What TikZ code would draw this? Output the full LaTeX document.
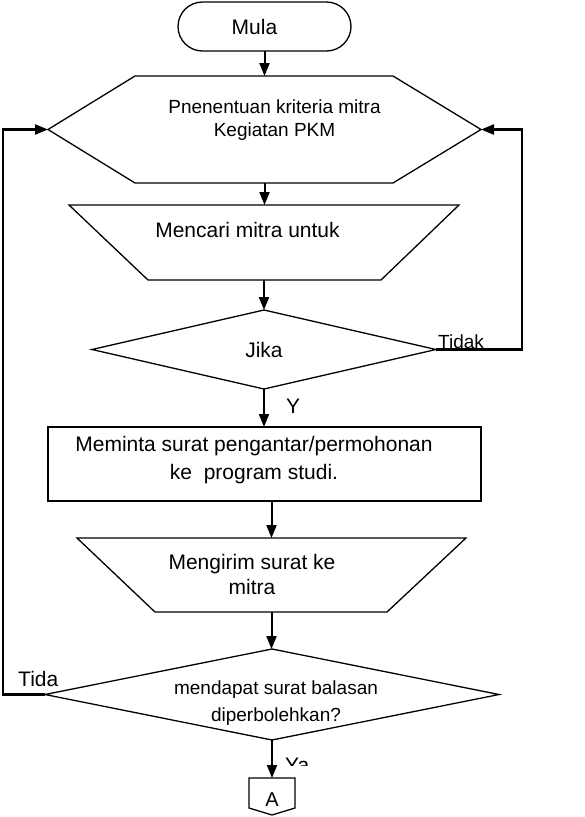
\documentclass[tikz,border=0pt]{standalone}
\usepackage{fontspec}
\setmainfont{Liberation Sans}
\usetikzlibrary{arrows.meta,calc}
\begin{document}
\begin{tikzpicture}[x=1pt,y=-1pt,
  box/.style={draw=none,inner sep=0pt,outer sep=0pt},
  outline/.style={draw=black,line width=1.3pt,line join=miter},
  conn/.style={draw=black,line width=2pt,-{Triangle[length=13pt,width=10pt]}},
  loopconn/.style={draw=black,line width=2.3pt,-{Triangle[length=13pt,width=10pt]}},
  big/.style={inner sep=0pt,font=\fontsize{21}{25}\selectfont},
  small/.style={inner sep=0pt,font=\fontsize{19}{23}\selectfont}
]
\useasboundingbox (0,0) rectangle (585,817);

% shapes
\node[box,draw=black,line width=1.3pt,rounded corners=24.5pt,minimum width=173pt,minimum height=49pt] (mula) at (264.5,26.5) {};
\node[big] (mulat) at (254.5,26.5) {Mula};

\node[box,minimum width=433pt,minimum height=107pt] (hex) at (264.5,129.5) {};
\draw[outline] (hex.west) -- ($(hex.north west)+(87,0)$) -- ($(hex.north east)+(-88,0)$) -- (hex.east) -- ($(hex.south east)+(-88,0)$) -- ($(hex.south west)+(87,0)$) -- cycle;
\node[small,align=center,font=\fontsize{19}{23}\selectfont] (hext) at (274.5,120.5) {Pnenentuan kriteria mitra\\Kegiatan PKM};

\node[box,minimum width=390pt,minimum height=75pt] (trapA) at (264,242.5) {};
\draw[outline] (trapA.north west) -- (trapA.north east) -- ($(trapA.south east)+(-78,0)$) -- ($(trapA.south west)+(79,0)$) -- cycle;
\node[big] (trapAt) at (247.5,230) {Mencari mitra untuk};

\node[box,minimum width=344pt,minimum height=79pt,font=\fontsize{21}{25}\selectfont] (jika) at (264,349.5) {Jika};
\draw[outline] (jika.north) -- (jika.east) -- (jika.south) -- (jika.west) -- cycle;

\node[box,draw=black,line width=1.3pt,minimum width=433pt,minimum height=74pt] (req) at (264.5,464) {};
\node[big,align=center,font=\fontsize{21}{28}\selectfont] (reqt) at (254,460) {Meminta surat pengantar/permohonan\\ke\ \ program studi.};

\node[box,minimum width=389pt,minimum height=74pt] (trapB) at (271.5,575) {};
\draw[outline] (trapB.north west) -- (trapB.north east) -- ($(trapB.south east)+(-79,0)$) -- ($(trapB.south west)+(78,0)$) -- cycle;
\node[big,align=center,font=\fontsize{21}{25}\selectfont] (trapBt) at (252,574) {Mengirim surat ke\\mitra};

\node[box,minimum width=454pt,minimum height=91pt] (dec) at (272,694.5) {};
\draw[outline] (dec.north) -- (dec.east) -- (dec.south) -- (dec.west) -- cycle;
\node[small,align=center,font=\fontsize{19}{27}\selectfont] (dect) at (276,703.5) {mendapat surat balasan\\diperbolehkan?};

\node[box,minimum width=46pt,minimum height=37pt] (conA) at (272,796.5) {};
\draw[outline] (conA.north west) -- (conA.north east) -- ($(conA.south east)+(0,-7)$) -- (conA.south) -- ($(conA.south west)+(0,-7)$) -- cycle;
\node[big,font=\fontsize{20}{24}\selectfont] (conAt) at (272,800) {A};

% connectors
\draw[conn] (mula.south) -- (hex.north);
\draw[conn] (hex.south) -- (hex.south |- trapA.north);
\draw[conn] (trapA.south) -- (jika.north);
\draw[conn] (jika.south) -- (jika.south |- req.north);
\draw[conn] (req.south -| trapB.north) -- (trapB.north);
\draw[conn] (trapB.south) -- (trapB.south |- dec.north);
\draw[conn] (dec.south) -- (conA.north);

\coordinate (rl) at (522,349.5);
\draw[loopconn] (jika.east) -- (rl) |- (hex.east);
\coordinate (ll) at (3,694.5);
\draw[loopconn] (dec.west) -- (ll) |- (hex.west);

% labels
\node[small,anchor=base west] (tidak) at (438,348) {Tidak};
\node[big,anchor=base west] (tida) at (18,686) {Tida};
\node[big,anchor=base west] (ylab) at (286,413) {Y};
\begin{scope}
\clip (280,745) rectangle (330,765);
\node[big,anchor=base west] (yalab) at (285,772) {Ya};
\end{scope}
\end{tikzpicture}
\end{document}
